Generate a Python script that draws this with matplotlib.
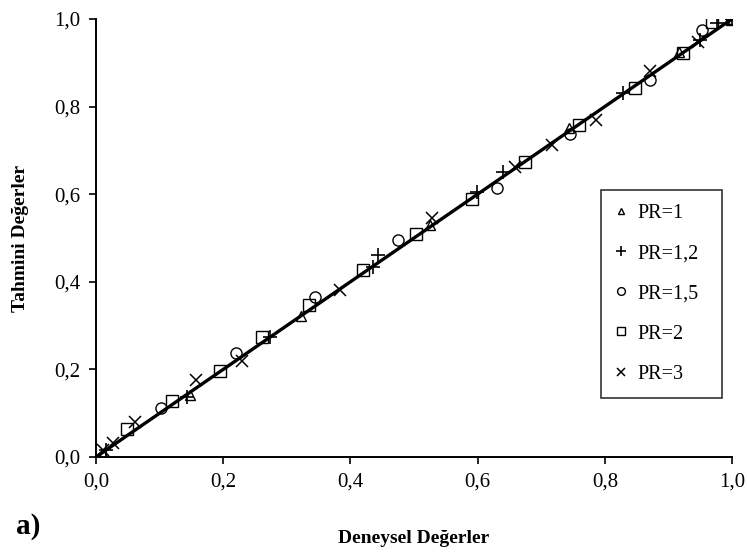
import matplotlib
matplotlib.use("Agg")
import matplotlib.pyplot as plt
import matplotlib.ticker as ticker

pr1_x = [0.011, 0.148, 0.323, 0.525, 0.743, 0.916, 1.0]
pr1_y = [0.008, 0.142, 0.322, 0.530, 0.750, 0.925, 1.0]

pr12_x = [0.015, 0.143, 0.274, 0.436, 0.443, 0.599, 0.640, 0.829, 0.950, 0.976, 1.0]
pr12_y = [0.015, 0.136, 0.275, 0.433, 0.461, 0.606, 0.651, 0.830, 0.952, 0.990, 1.0]

pr15_x = [0.102, 0.220, 0.344, 0.475, 0.630, 0.745, 0.871, 0.952, 1.0]
pr15_y = [0.111, 0.238, 0.366, 0.495, 0.613, 0.738, 0.861, 0.975, 1.0]

pr2_x = [0.048, 0.119, 0.195, 0.261, 0.335, 0.419, 0.503, 0.591, 0.675, 0.759, 0.847, 0.923, 0.968, 1.0]
pr2_y = [0.063, 0.129, 0.197, 0.275, 0.347, 0.428, 0.508, 0.589, 0.674, 0.758, 0.842, 0.922, 0.994, 1.0]

pr3_x = [0.011, 0.027, 0.061, 0.158, 0.229, 0.383, 0.528, 0.659, 0.717, 0.786, 0.871, 0.947, 1.0]
pr3_y = [0.015, 0.033, 0.081, 0.176, 0.220, 0.381, 0.545, 0.661, 0.712, 0.769, 0.880, 0.948, 1.0]

fit_x = [0.0, 1.0]
fit_y = [0.0, 1.0]

plt.rcParams["font.family"] = ["Liberation Serif", "DejaVu Serif"]

fig = plt.figure(figsize=(7.47, 5.56), dpi=100)
ax = fig.add_axes([0.1285, 0.178, 0.8515, 0.788])

ax.plot(fit_x, fit_y, color="black", linewidth=2.4, zorder=2)

ms = dict(color="black", linestyle="none", zorder=3)
ax.plot(pr1_x, pr1_y, marker="^", markersize=7, markerfacecolor="none",
        markeredgewidth=1.0, label="PR=1", **ms)
ax.plot(pr12_x, pr12_y, marker="+", markersize=10, markeredgewidth=1.2,
        label="PR=1,2", **ms)
ax.plot(pr15_x, pr15_y, marker="o", markersize=8, markerfacecolor="none",
        markeredgewidth=1.0, label="PR=1,5", **ms)
ax.plot(pr2_x, pr2_y, marker="s", markersize=9, markerfacecolor="none",
        markeredgewidth=1.0, label="PR=2", **ms)
ax.plot(pr3_x, pr3_y, marker="x", markersize=9, markeredgewidth=1.1,
        label="PR=3", **ms)

ax.set_xlim(0, 1)
ax.set_ylim(0, 1)
ax.set_xticks([0, 0.2, 0.4, 0.6, 0.8, 1.0])
ax.set_yticks([0, 0.2, 0.4, 0.6, 0.8, 1.0])
comma = ticker.FuncFormatter(lambda v, p: f"{v:.1f}".replace(".", ","))
ax.xaxis.set_major_formatter(comma)
ax.yaxis.set_major_formatter(comma)
ax.tick_params(direction="out", length=5, width=1.2, labelsize=15, pad=6)

ax.spines[["top", "right"]].set_visible(False)
for s in ["left", "bottom"]:
    ax.spines[s].set_linewidth(1.4)

ax.set_xlabel("Deneysel Değerler", fontsize=14, fontweight="bold", labelpad=28)
ax.set_ylabel("Tahmini Değerler", fontsize=14, fontweight="bold", labelpad=18)

leg = ax.legend(loc="lower left", bbox_to_anchor=(0.794, 0.135, 0.19, 0.49),
                mode="expand", borderaxespad=0, fontsize=14.5, frameon=True,
                fancybox=False, handlelength=0.6, handletextpad=0.5,
                labelspacing=1.05, borderpad=0.7, markerscale=0.7)
leg.get_frame().set_edgecolor("black")
leg.get_frame().set_linewidth(1.2)

fig.text(0.022, 0.04, "a)", fontsize=21, fontweight="bold")

fig.savefig("out.png", dpi=100)
